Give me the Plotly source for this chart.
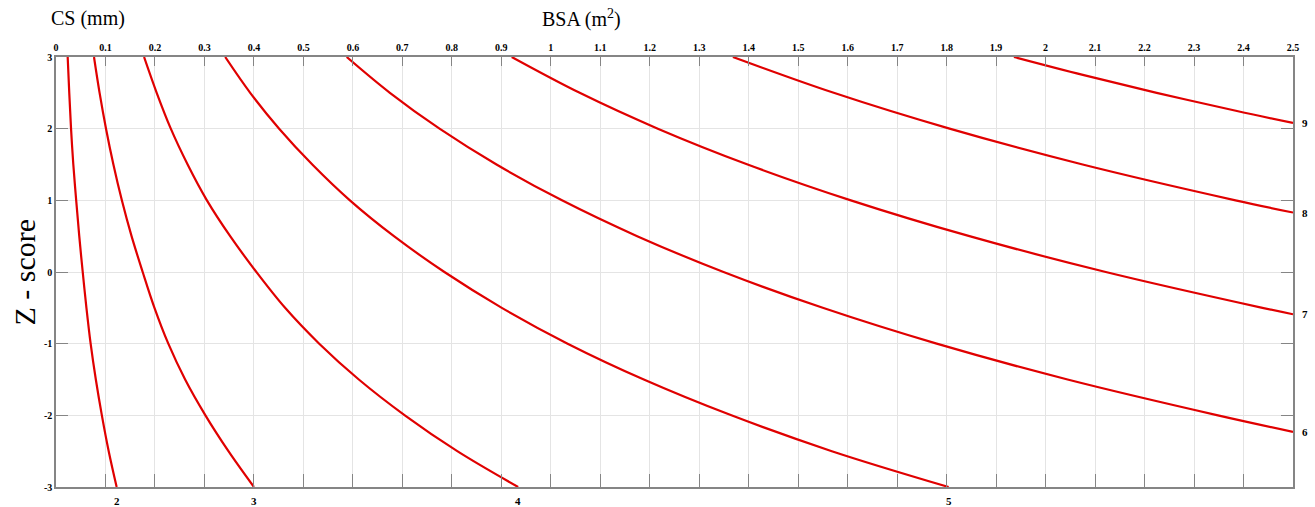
import plotly.graph_objects as go

# CS isolines: (BSA, Z-score) points
cs_labels = ["2", "3", "4", "5", "6", "7", "8", "9"]

z_full = [3, 2.5, 2, 1.5, 1, 0.5, 0, -0.5, -1, -1.5, -2, -2.5, -3]

z_cs2 = z_full
bsa_cs2 = [0.0236, 0.0268, 0.0304, 0.0350, 0.0408, 0.0470, 0.0540, 0.0615, 0.0700, 0.0805, 0.0927, 0.1065, 0.1226]

z_cs3 = z_full
bsa_cs3 = [0.0768, 0.0881, 0.1011, 0.1160, 0.1331, 0.1527, 0.1752, 0.1990, 0.2270, 0.2610, 0.3020, 0.3485, 0.4000]

z_cs4 = z_full
bsa_cs4 = [0.178, 0.2035, 0.232, 0.266, 0.305, 0.352, 0.405, 0.463, 0.532, 0.612, 0.705, 0.811, 0.934]

z_cs5 = z_full
bsa_cs5 = [0.342, 0.3925, 0.451, 0.518, 0.594, 0.683, 0.785, 0.901, 1.034, 1.188, 1.365, 1.568, 1.804]

z_cs6 = [3, 2.5, 2, 1.5, 1, 0.5, 0, -0.5, -1, -1.5, -2, -2.23]
bsa_cs6 = [0.5875, 0.6748, 0.7751, 0.8903, 1.0226, 1.1746, 1.3491, 1.5496, 1.7799, 2.0444, 2.3482, 2.5]

z_cs7 = [3, 2.5, 2, 1.5, 1, 0.5, 0, -0.5, -0.59]
bsa_cs7 = [0.921, 1.0584, 1.2163, 1.3978, 1.6064, 1.8461, 2.1216, 2.4382, 2.5]

z_cs8 = [3, 2.5, 2, 1.5, 1, 0.83]
bsa_cs8 = [1.368, 1.5718, 1.8059, 2.0749, 2.3839, 2.5]

z_cs9 = [3, 2.75, 2.5, 2.25, 2.08]
bsa_cs9 = [1.936, 2.0752, 2.2245, 2.3845, 2.5]

bsa_ticks = [round(i * 0.1, 1) for i in range(26)]
bsa_ticktext = ["0", "0.1", "0.2", "0.3", "0.4", "0.5", "0.6", "0.7", "0.8", "0.9", "1",
                "1.1", "1.2", "1.3", "1.4", "1.5", "1.6", "1.7", "1.8", "1.9", "2",
                "2.1", "2.2", "2.3", "2.4", "2.5"]
z_ticks = [-3, -2, -1, 0, 1, 2, 3]

curves = [
    (bsa_cs2, z_cs2), (bsa_cs3, z_cs3), (bsa_cs4, z_cs4), (bsa_cs5, z_cs5),
    (bsa_cs6, z_cs6), (bsa_cs7, z_cs7), (bsa_cs8, z_cs8), (bsa_cs9, z_cs9),
]

RED = "#e00000"
GRAY = "#858585"
SERIF = "Liberation Serif"

fig = go.Figure()
for (bx, zy), lab in zip(curves, cs_labels):
    fig.add_trace(go.Scatter(x=bx, y=zy, mode="lines", name="CS " + lab,
                             line=dict(color=RED, width=2.2, shape="spline", smoothing=1.0),
                             hoverinfo="skip"))

# invisible trace to activate the bottom (tick-only) axis
fig.add_trace(go.Scatter(x=[0, 2.5], y=[0, 0], xaxis="x2", mode="lines",
                         line=dict(width=0), hoverinfo="skip", showlegend=False))

annotations = []
# curve labels: bottom for curves ending at Z=-3, right for curves ending at BSA=2.5
for (bx, zy), lab in zip(curves, cs_labels):
    if zy[-1] <= -3:
        annotations.append(dict(x=bx[-1], y=-3, xref="x", yref="y", text=lab, showarrow=False,
                                yanchor="top", yshift=-6,
                                font=dict(family=SERIF, size=11, color="black", weight="bold")))
    else:
        annotations.append(dict(x=2.5, y=zy[-1], xref="x", yref="y", text=lab, showarrow=False,
                                xanchor="left", xshift=7,
                                font=dict(family=SERIF, size=11, color="black", weight="bold")))

annotations += [
    dict(x=-0.006, y=1.09, xref="paper", yref="paper", text="CS (mm)", showarrow=False,
         xanchor="left", yanchor="middle", font=dict(family=SERIF, size=20, color="black")),
    dict(x=0.4245, y=1.09, xref="paper", yref="paper", text="BSA (m<sup>2</sup>)", showarrow=False,
         xanchor="center", yanchor="middle", font=dict(family=SERIF, size=20, color="black")),
    dict(x=-0.0255, y=0.5, xref="paper", yref="paper", text="Z - score", showarrow=False,
         textangle=-90, xanchor="center", yanchor="middle",
         font=dict(family=SERIF, size=30, color="black")),
]

fig.update_layout(
    width=1315, height=507,
    margin=dict(l=56, r=22, t=57, b=20),
    plot_bgcolor="white", paper_bgcolor="white",
    showlegend=False,
    annotations=annotations,
    xaxis=dict(range=[0, 2.5], side="top", tickmode="array", tickvals=bsa_ticks,
               ticktext=bsa_ticktext, ticks="inside", ticklen=9, tickcolor=GRAY, tickwidth=1.2,
               showgrid=True, gridcolor="#e4e4e4", gridwidth=1, zeroline=False,
               showline=True, linecolor=GRAY, linewidth=1.5, mirror=True,
               tickfont=dict(family=SERIF, size=10, color="black", weight="bold")),
    xaxis2=dict(range=[0, 2.5], overlaying="x", side="bottom", anchor="y", tickmode="array",
                tickvals=bsa_ticks, ticks="inside", ticklen=13, tickcolor=GRAY, tickwidth=1.2,
                showticklabels=False, showgrid=False, zeroline=False, showline=False),
    yaxis=dict(range=[-3, 3], tickmode="array", tickvals=z_ticks,
               ticktext=[str(v) for v in z_ticks], ticks="inside", ticklen=12,
               tickcolor=GRAY, tickwidth=1.2,
               showgrid=True, gridcolor="#e4e4e4", gridwidth=1, zeroline=False,
               showline=True, linecolor=GRAY, linewidth=1.5, mirror="ticks",
               tickfont=dict(family=SERIF, size=10, color="black", weight="bold")),
)

fig.write_html("out.html")
